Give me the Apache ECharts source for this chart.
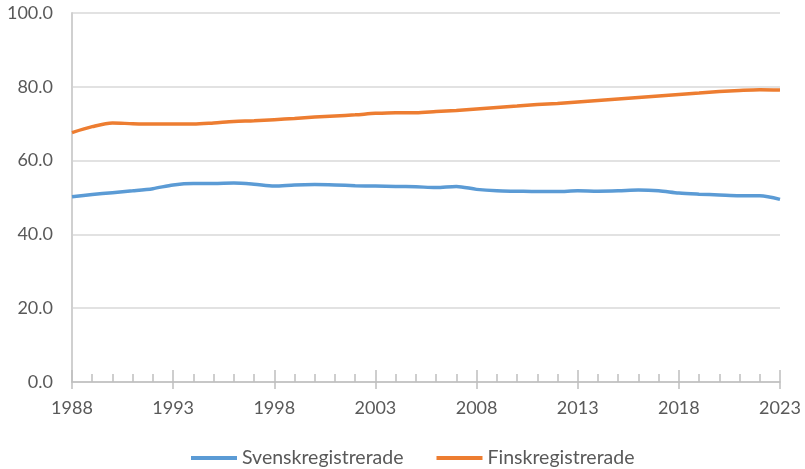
<!DOCTYPE html>
<html>
<head>
<meta charset="utf-8">
<script src="https://cdn.jsdelivr.net/npm/echarts@6/dist/echarts.min.js"></script>
<style>
  html, body { margin: 0; padding: 0; background: #fff; }
  #chart { width: 805px; height: 469px; }
</style>
</head>
<body>
<div id="chart"></div>
<script>
// years on the x axis
var years = [1988, 1989, 1990, 1991, 1992, 1993, 1994, 1995, 1996, 1997,
  1998, 1999, 2000, 2001, 2002, 2003, 2004, 2005, 2006, 2007,
  2008, 2009, 2010, 2011, 2012, 2013, 2014, 2015, 2016, 2017,
  2018, 2019, 2020, 2021, 2022, 2023];

var svensk = [50.2, 50.8, 51.3, 51.8, 52.4, 53.4, 53.8, 53.8, 53.9, 53.6,
  53.1, 53.4, 53.5, 53.4, 53.2, 53.1, 53.0, 52.9, 52.7, 53.0,
  52.2, 51.8, 51.7, 51.6, 51.6, 51.8, 51.7, 51.8, 52.0, 51.8,
  51.2, 50.9, 50.7, 50.5, 50.5, 49.5];

var finsk = [67.6, 69.2, 70.2, 70.0, 69.9, 69.9, 69.9, 70.2, 70.6, 70.8,
  71.1, 71.4, 71.8, 72.1, 72.4, 72.8, 73.0, 73.0, 73.3, 73.6,
  74.0, 74.4, 74.8, 75.2, 75.5, 75.9, 76.3, 76.7, 77.1, 77.5,
  77.9, 78.3, 78.7, 79.0, 79.2, 79.1];

var seriesNames = ['Svenskregistrerade', 'Finskregistrerade'];

function pairs(vals) {
  return years.map(function (y, i) { return [y, vals[i]]; });
}

var font = 'Lato, "Noto Sans", sans-serif';
var textColor = '#595959';

var chart = echarts.init(document.getElementById('chart'), null, { renderer: 'canvas' });

var option = {
  backgroundColor: '#ffffff',
  animation: false,
  color: ['#5B9BD5', '#ED7D31'],
  grid: { left: 72, right: 25, top: 13, bottom: 87 },
  legend: {
    data: seriesNames,
    top: 443,
    left: 186,
    icon: 'rect',
    itemWidth: 46,
    itemHeight: 4,
    itemGap: 33,
    textStyle: { fontFamily: font, fontSize: 19.5, color: textColor }
  },
  xAxis: [{
    type: 'value',
    min: 1988,
    max: 2023,
    interval: 5,
    axisLine: { show: true, lineStyle: { color: '#bfbfbf', width: 1.5 } },
    axisTick: { show: true, inside: true, length: 12, lineStyle: { color: '#bfbfbf', width: 1.5 } },
    minorTick: { show: true, splitNumber: 5, length: 8, lineStyle: { color: '#bfbfbf', width: 1.5 } },
    splitLine: { show: false },
    axisLabel: {
      margin: 17,
      fontFamily: font,
      fontSize: 18,
      color: textColor,
      formatter: function (v) { return String(v); }
    }
  }, {
    type: 'value',
    min: 1988,
    max: 2023,
    interval: 5,
    position: 'bottom',
    axisLine: { show: false },
    axisTick: { show: true, inside: false, length: 7, lineStyle: { color: '#bfbfbf', width: 1.5 } },
    splitLine: { show: false },
    axisLabel: { show: false }
  }],
  yAxis: {
    type: 'value',
    min: 0,
    max: 100,
    interval: 20,
    axisLine: { show: true, lineStyle: { color: '#d0d0d0', width: 2 } },
    axisTick: { show: false },
    splitLine: { lineStyle: { color: '#d9d9d9', width: 1.5 } },
    axisLabel: {
      margin: 19,
      fontFamily: font,
      fontSize: 18,
      color: textColor,
      formatter: function (v) { return v.toFixed(1); }
    }
  },
  series: [{
    name: seriesNames[0],
    type: 'line',
    data: pairs(svensk),
    smooth: 0.3,
    symbol: 'none',
    lineStyle: { width: 3.5 }
  }, {
    name: seriesNames[1],
    type: 'line',
    data: pairs(finsk),
    smooth: 0.3,
    symbol: 'none',
    lineStyle: { width: 3.5 }
  }]
};

chart.setOption(option);
</script>
</body>
</html>
